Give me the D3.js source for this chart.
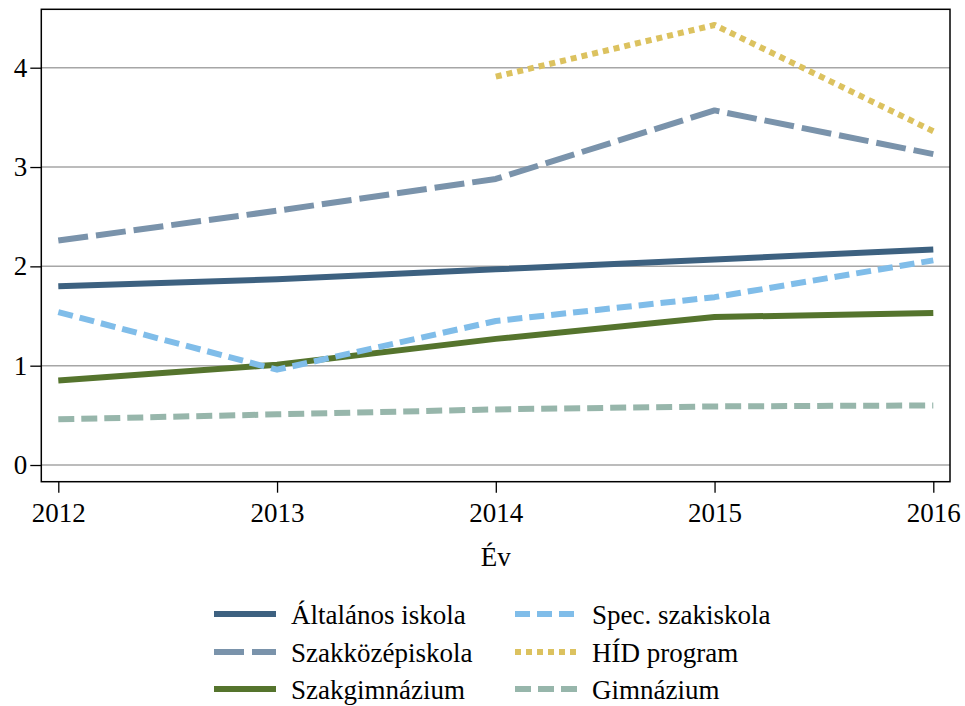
<!DOCTYPE html>
<html>
<head>
<meta charset="utf-8">
<script src="https://cdn.jsdelivr.net/npm/d3@7"></script>
<style>
  body { margin: 0; background: #fff; }
  svg { display: block; }
  text { font-family: "Times New Roman", Times, "Liberation Serif", serif; fill: #000; }
</style>
</head>
<body>
<svg id="chart" width="965" height="706"></svg>
<script>
const years = [2012, 2013, 2014, 2015, 2016];
const yTicks = [0, 1, 2, 3, 4];

const altalanos   = [1.80, 1.87, 1.97, 2.07, 2.17];
const szakkozep   = [2.26, 2.56, 2.88, 3.57, 3.13];
const szakgimn    = [0.85, 1.01, 1.27, 1.49, 1.53];
const spec        = [1.54, 0.96, 1.45, 1.69, 2.06];
const hid         = [null, null, 3.91, 4.43, 3.36];
const gimnazium   = [0.46, 0.51, 0.56, 0.59, 0.60];

const seriesNames = ["Általános iskola", "Szakközépiskola", "Szakgimnázium", "Spec. szakiskola", "HÍD program", "Gimnázium"];
const seriesValues = [altalanos, szakkozep, szakgimn, spec, hid, gimnazium];
const seriesColors = ["#3d6180", "#7a93ab", "#55742d", "#80bde9", "#dcc25f", "#97b6ab"];
const seriesDash = [null, "30,8", null, "15,7", "6,5", "16,7"];

const FS = "27px";
const svg = d3.select("#chart");
const plot = { left: 41.3, right: 950, top: 9.3, bottom: 481.7 };

const x = d3.scaleLinear().domain([2012, 2016]).range([58.3, 933.3]);
const y = d3.scaleLinear().domain([-0.168, 4.588]).range([plot.bottom, plot.top]);

// gridlines
svg.append("g").selectAll("line").data(yTicks).join("line")
  .attr("x1", plot.left).attr("x2", plot.right)
  .attr("y1", d => y(d)).attr("y2", d => y(d))
  .attr("stroke", "#a6a6a6").attr("stroke-width", 1.5);

// lines
const line = d3.line()
  .defined(d => d.v !== null)
  .x(d => x(d.year)).y(d => y(d.v));

seriesValues.forEach((vals, i) => {
  const data = years.map((yr, j) => ({ year: yr, v: vals[j] }));
  svg.append("path")
    .datum(data)
    .attr("d", line)
    .attr("fill", "none")
    .attr("stroke", seriesColors[i])
    .attr("stroke-width", 6)
    .attr("stroke-linejoin", "round")
    .attr("stroke-dasharray", seriesDash[i]);
});

// frame
svg.append("rect")
  .attr("x", plot.left).attr("y", plot.top)
  .attr("width", plot.right - plot.left).attr("height", plot.bottom - plot.top)
  .attr("fill", "none").attr("stroke", "#000").attr("stroke-width", 1.5);

// y axis
const yAxis = svg.append("g").attr("transform", `translate(${plot.left},0)`)
  .call(d3.axisLeft(y).tickValues(yTicks).tickSize(11).tickPadding(3).tickFormat(d3.format("d")));
yAxis.attr("font-family", null).attr("font-size", null);
yAxis.select(".domain").remove();
yAxis.selectAll(".tick line").attr("stroke", "#000").attr("stroke-width", 1.3);
yAxis.selectAll(".tick text").style("font-size", FS);

// x axis
const xAxis = svg.append("g").attr("transform", `translate(0,${plot.bottom})`)
  .call(d3.axisBottom(x).tickValues(years).tickSize(11).tickPadding(10).tickFormat(d3.format("d")));
xAxis.attr("font-family", null).attr("font-size", null);
xAxis.select(".domain").remove();
xAxis.selectAll(".tick line").attr("stroke", "#000").attr("stroke-width", 1.3);
xAxis.selectAll(".tick text").style("font-size", FS);

// x title
svg.append("text")
  .attr("x", x(2014)).attr("y", 566)
  .attr("text-anchor", "middle")
  .style("font-size", FS)
  .text("Év");

// legend
const legendCols = [214, 515];
const legendRows = [614, 652, 689];
const legendOrder = [0, 3, 1, 4, 2, 5];
legendOrder.forEach((si, k) => {
  const col = k % 2, row = Math.floor(k / 2);
  const lx = legendCols[col], ly = legendRows[row];
  svg.append("line")
    .attr("x1", lx).attr("x2", lx + 62)
    .attr("y1", ly).attr("y2", ly)
    .attr("stroke", seriesColors[si])
    .attr("stroke-width", 6)
    .attr("stroke-dasharray", seriesDash[si]);
  svg.append("text")
    .attr("x", lx + 77).attr("y", ly + 10)
    .style("font-size", FS)
    .text(seriesNames[si]);
});
</script>
</body>
</html>
